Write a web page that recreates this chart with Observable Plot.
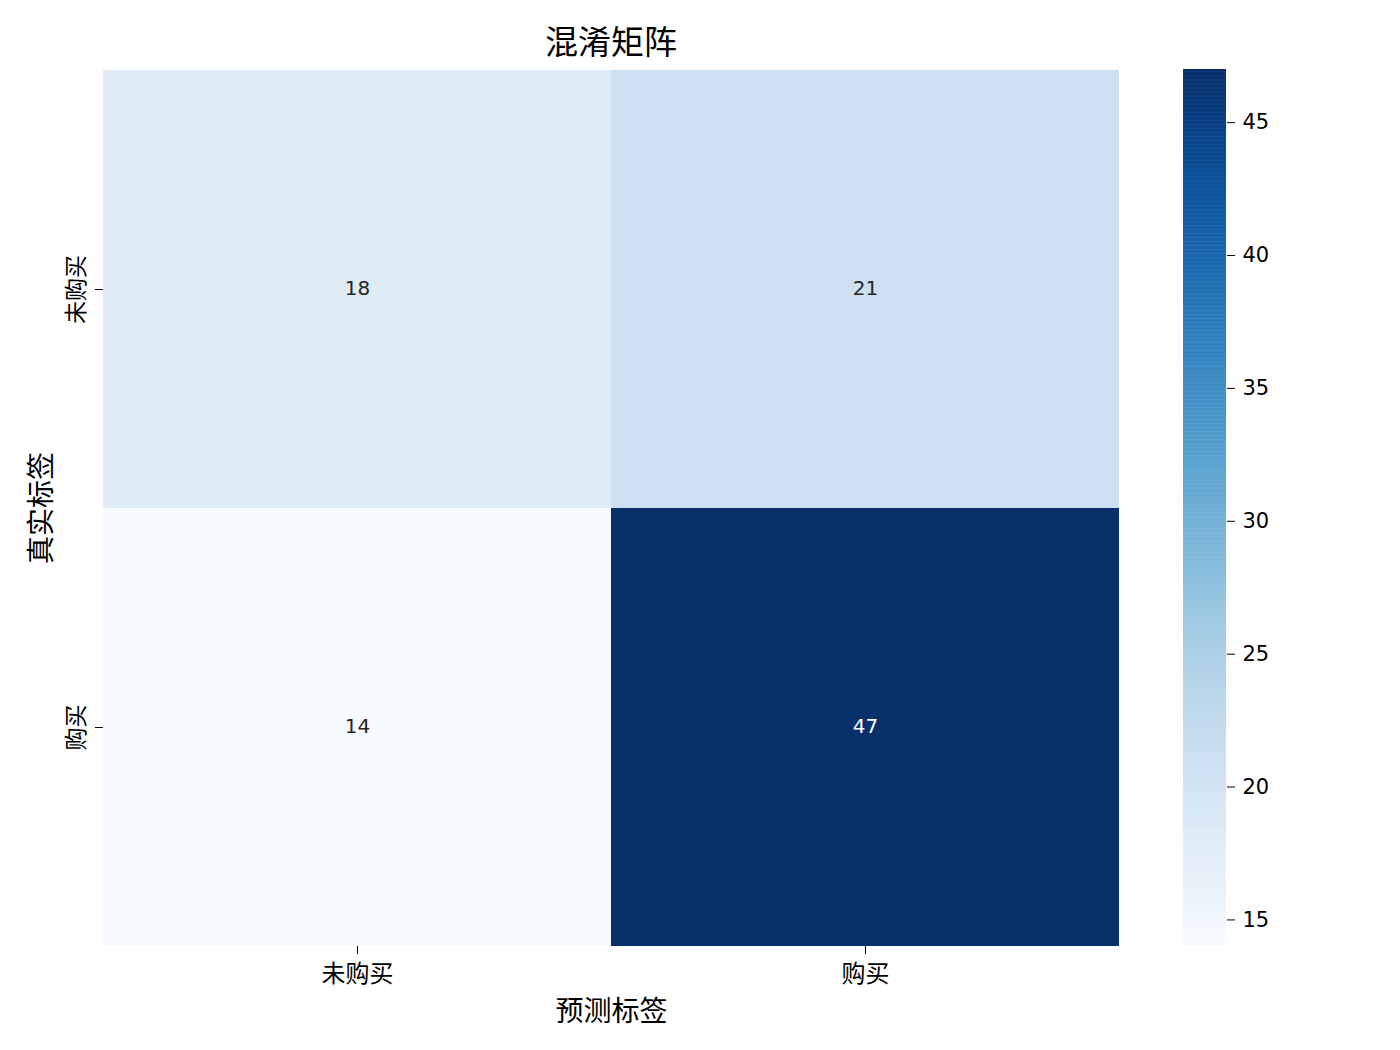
<!DOCTYPE html>
<html><head><meta charset="utf-8">
<script src="https://cdn.jsdelivr.net/npm/d3@7"></script>
<script src="https://cdn.jsdelivr.net/npm/@observablehq/plot@0.6"></script>
<style>
body{margin:0;background:#fff;font-family:"DejaVu Sans","Noto Sans CJK SC",sans-serif;}
#wrap{position:relative;width:1400px;height:1050px;}
#title{position:absolute;left:103px;width:1016px;top:18px;text-align:center;font-size:33px;font-family:"Noto Sans CJK SC",sans-serif;color:#000;line-height:44px;}
#heat{position:absolute;left:0;top:0;}
#cbar{position:absolute;left:1183px;top:0;}
</style></head>
<body><div id="wrap"><div id="title">混淆矩阵</div><div id="heat"></div><div id="cbar"></div></div>
<script>
const predicted = ["未购买", "购买"];
const actual = ["未购买", "购买"];
const values = [[18, 21], [14, 47]];
const colorTicks = [15, 20, 25, 30, 35, 40, 45];
const vmin = 14, vmax = 47;

const cells = [];
actual.forEach((a, i) => predicted.forEach((p, j) => cells.push({actual: a, predicted: p, value: values[i][j]})));

const font = '"DejaVu Sans","Noto Sans CJK SC",sans-serif';
const cjk = '"Noto Sans CJK SC",sans-serif';
const color = {type: "linear", scheme: "blues", domain: [vmin, vmax]};

const heat = Plot.plot({
  width: 1160, height: 1050,
  marginLeft: 103, marginRight: 41, marginTop: 69, marginBottom: 104,
  style: {fontFamily: font, fontSize: "20px", background: "transparent"},
  x: {domain: predicted, padding: 0, label: null, axis: null},
  y: {domain: actual, padding: 0, label: null, axis: null},
  color,
  marks: [
    Plot.cell(cells, {x: "predicted", y: "actual", fill: "value", inset: 0}),
    Plot.text(cells, {x: "predicted", y: "actual", text: d => String(d.value), fontSize: 20, dy: -1,
      fill: d => d.value > 35 ? "white" : "#262626"}),
    Plot.axisX({anchor: "bottom", tickSize: 8, tickPadding: 10, fontSize: 24, fontFamily: cjk, label: null}),
    Plot.axisY({anchor: "left", tickSize: 8, tickPadding: 12, fontSize: 23, fontFamily: cjk, label: null, tickRotate: -90}),
    Plot.text(["预测标签"], {frameAnchor: "bottom", dy: 74, fontSize: 28, fontFamily: cjk, fill: "#000"}),
    Plot.text(["真实标签"], {frameAnchor: "left", dx: -61, rotate: -90, textAnchor: "middle", fontSize: 28, fontFamily: cjk, fill: "#000"})
  ]
});
document.getElementById("heat").appendChild(heat);

const step = 0.05;
const strips = d3.range(vmin, vmax, step);
const cbar = Plot.plot({
  width: 130, height: 1050,
  marginLeft: 0, marginRight: 87, marginTop: 69, marginBottom: 104,
  style: {fontFamily: font, fontSize: "20px", background: "transparent"},
  x: {domain: [0, 1], axis: null},
  y: {domain: [vmin, vmax], axis: null},
  color,
  marks: [
    Plot.rect(strips, {x1: 0, x2: 1, y1: d => d, y2: d => Math.min(vmax, d + step + 0.02), fill: d => d + step / 2}),
    Plot.axisY(colorTicks, {anchor: "right", tickSize: 8, tickPadding: 8, fontSize: 21, label: null})
  ]
});
document.getElementById("cbar").appendChild(cbar);
</script></body></html>
